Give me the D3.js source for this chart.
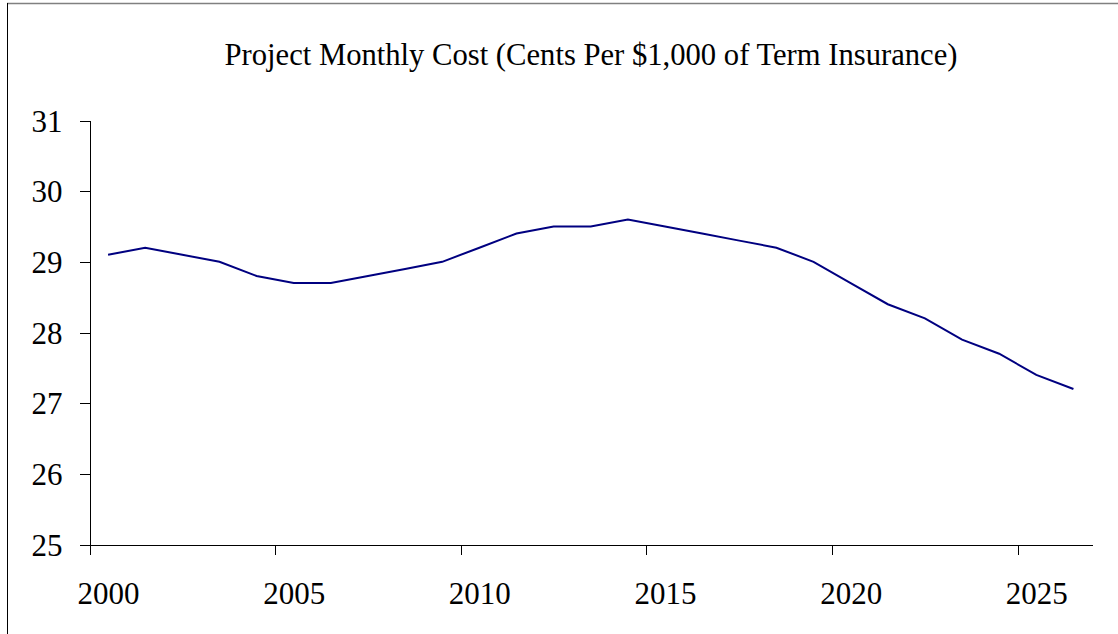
<!DOCTYPE html>
<html>
<head>
<meta charset="utf-8">
<script src="https://cdn.jsdelivr.net/npm/d3@7"></script>
<style>
  html, body { margin: 0; padding: 0; background: #fff; }
  svg { display: block; }
  text { font-family: "Liberation Serif", "Times New Roman", serif; fill: #000; }
</style>
</head>
<body>
<svg id="chart" width="1118" height="634"></svg>
<script>
// data
const years = d3.range(2000, 2027);
const cost = [29.1, 29.2, 29.1, 29.0, 28.8, 28.7, 28.7, 28.8, 28.9, 29.0,
              29.2, 29.4, 29.5, 29.5, 29.6, 29.5, 29.4, 29.3, 29.2, 29.0,
              28.7, 28.4, 28.2, 27.9, 27.7, 27.4, 27.2];
const yTicks = [25, 26, 27, 28, 29, 30, 31];
const xTicks = [2000, 2005, 2010, 2015, 2020, 2025];
const title = 'Project Monthly Cost (Cents Per $1,000 of Term Insurance)';

const svg = d3.select('#chart');

const plotLeft = 89.5, plotRight = 1092, plotTop = 120.5, plotBottom = 544.5;

// each year takes one slot, points sit in the middle of it
const x = d3.scaleLinear().domain([2000, 2027]).range([plotLeft, plotRight]);
const y = d3.scaleLinear().domain([25, 31]).range([plotBottom, plotTop]);
const half = (x(2001) - x(2000)) / 2;

// outer frame (only top and left show)
svg.append('line')
  .attr('x1', 7).attr('x2', 1118).attr('y1', 3.5).attr('y2', 3.5)
  .attr('stroke', '#808080').attr('stroke-width', 1.5);
svg.append('line')
  .attr('x1', 7.5).attr('x2', 7.5).attr('y1', 3).attr('y2', 634)
  .attr('stroke', '#000').attr('stroke-width', 1);

svg.append('text')
  .attr('x', 591).attr('y', 65)
  .attr('text-anchor', 'middle')
  .attr('textLength', 733)
  .attr('lengthAdjust', 'spacingAndGlyphs')
  .style('font-size', '32px')
  .text(title);

// y axis
const yAxis = svg.append('g')
  .attr('transform', `translate(${plotLeft},0)`)
  .call(d3.axisLeft(y).tickValues(yTicks).tickFormat(d3.format('d'))
    .tickSize(10).tickPadding(17).tickSizeOuter(0));
yAxis.selectAll('text')
  .style('font-size', '31px')
  .attr('dy', '0.34em');

// x axis, ticks on slot edges, labels in slot middle
const xAxis = svg.append('g')
  .attr('transform', `translate(0,${plotBottom})`)
  .call(d3.axisBottom(x).tickValues(xTicks).tickFormat(d3.format('d'))
    .tickSize(10).tickSizeOuter(0));
xAxis.selectAll('text')
  .style('font-size', '31px')
  .attr('dx', half)
  .attr('y', 59)
  .attr('dy', 0);

svg.selectAll('.domain, .tick line')
  .attr('stroke', '#000')
  .attr('shape-rendering', 'crispEdges');

// series
const line = d3.line()
  .x((d, i) => x(years[i]) + half)
  .y(d => y(d));

svg.append('path')
  .datum(cost)
  .attr('fill', 'none')
  .attr('stroke', '#000080')
  .attr('stroke-width', 2)
  .attr('d', line);
</script>
</body>
</html>
